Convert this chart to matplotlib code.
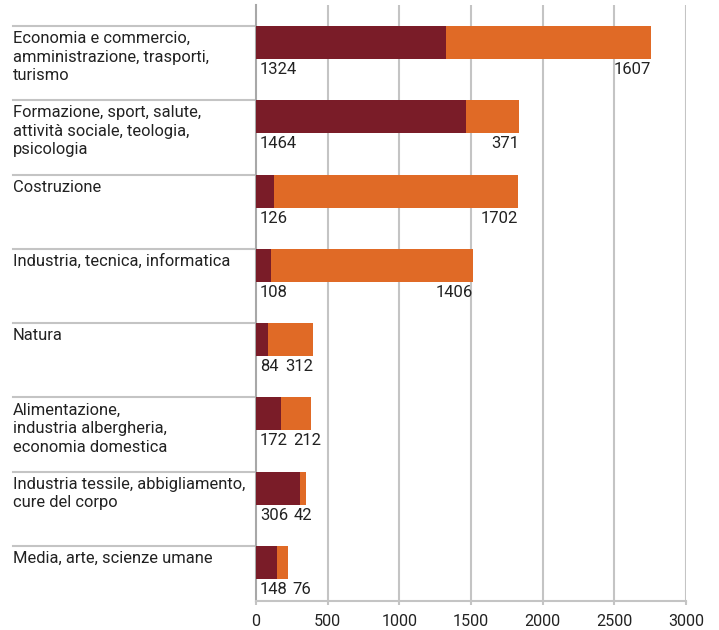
#!/usr/bin/env python3
"""Stacked horizontal bars: apprenticeships by field (two groups)."""
import matplotlib
matplotlib.use("Agg")
import matplotlib.pyplot as plt
from matplotlib import font_manager
from matplotlib.transforms import blended_transform_factory

categories = [
    "Economia e commercio,\namministrazione, trasporti,\nturismo",
    "Formazione, sport, salute,\nattività sociale, teologia,\npsicologia",
    "Costruzione",
    "Industria, tecnica, informatica",
    "Natura",
    "Alimentazione,\nindustria albergheria,\neconomia domestica",
    "Industria tessile, abbigliamento,\ncure del corpo",
    "Media, arte, scienze umane",
]
# values printed under the bars
red_values = [1324, 1464, 126, 108, 84, 172, 306, 148]
orange_values = [1607, 371, 1702, 1406, 312, 212, 42, 76]
# orange segment lengths as drawn in the picture (first bar is drawn shorter than its label)
orange_drawn = [1432, 371, 1702, 1406, 312, 212, 42, 76]
xticks = [0, 500, 1000, 1500, 2000, 2500, 3000]

RED = "#7A1C28"
ORANGE = "#E06A26"
GRID = "#C4C4C4"
TEXT = "#222222"

available = {f.name for f in font_manager.fontManager.ttflist}
family = ["Roboto", "DejaVu Sans"]
family = [f for f in family if f in available] or ["DejaVu Sans"]
plt.rcParams["font.family"] = family
fs = 11.6

fig = plt.figure(figsize=(7.19, 6.30), dpi=100)
ax = fig.add_axes([256 / 719, 1 - 601 / 630, 430 / 719, 596 / 630])

band_px = 74.3
top_off = 21 / band_px
ax.set_ylim(7.74, -top_off)
ax.set_xlim(0, 3000)

bar_h = 33 / band_px
ys = list(range(len(categories)))
ax.barh(ys, red_values, height=bar_h, align="edge", color=RED, zorder=3)
ax.barh(ys, orange_drawn, left=red_values, height=bar_h, align="edge",
        color=ORANGE, zorder=3)

for x in xticks[1:]:
    ax.axvline(x, color=GRID, lw=1.5, zorder=1)

for s in ["top", "right"]:
    ax.spines[s].set_visible(False)
ax.spines["left"].set_color("#A8A8A8")
ax.spines["left"].set_linewidth(1.5)
ax.spines["bottom"].set_color(GRID)
ax.spines["bottom"].set_linewidth(1.5)

ax.set_yticks([])
ax.set_xticks(xticks)
ax.set_xticklabels([str(t) for t in xticks])
ax.tick_params(axis="x", length=3, width=1.5, color=GRID, labelsize=fs,
               labelcolor=TEXT, pad=6)

# separators and category labels on the left
trans = blended_transform_factory(ax.transAxes, ax.transData)
x_left = (13 - 256) / 430
for i, cat in enumerate(categories):
    ax.plot([x_left, 0], [i, i], color=GRID, lw=1.5, transform=trans,
            clip_on=False, zorder=2)
    ax.text(x_left, i + 5 / band_px, cat, transform=trans, ha="left", va="top",
            fontsize=fs + 0.3, color=TEXT, linespacing=1.3)

# value labels under the bars
fig.canvas.draw()
renderer = fig.canvas.get_renderer()
px_per_unit = 430 / 3000
label_y = [i + bar_h + 3 / band_px for i in ys]
for i in ys:
    t_red = ax.text(28, label_y[i], str(red_values[i]), ha="left", va="top",
                    fontsize=fs + 0.4, color=TEXT, zorder=4)
    end = red_values[i] + orange_drawn[i]
    t_or = ax.text(end, label_y[i], str(orange_values[i]), ha="right", va="top",
                   fontsize=fs + 0.4, color=TEXT, zorder=4)
    bb_red = t_red.get_window_extent(renderer)
    bb_or = t_or.get_window_extent(renderer)
    gap = 5
    if bb_or.x0 < bb_red.x1 + gap:
        shift = (bb_red.x1 + gap - bb_or.x0) / px_per_unit
        t_or.set_x(end + shift)

fig.savefig("out.png", dpi=100)
